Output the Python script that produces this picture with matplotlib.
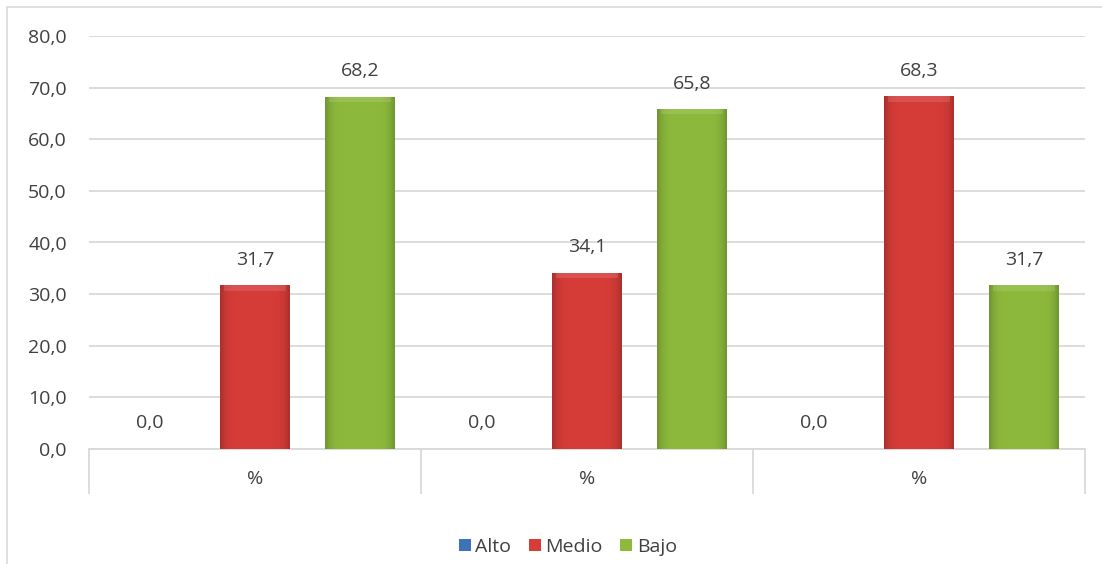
import matplotlib
matplotlib.use("Agg")
import matplotlib.pyplot as plt
import numpy as np
from matplotlib.colors import to_rgb
from matplotlib.patches import Rectangle

categories = ["%", "%", "%"]
series = ["Alto", "Medio", "Bajo"]
alto = [0.0, 0.0, 0.0]
medio = [31.7, 34.1, 68.3]
bajo = [68.2, 65.8, 31.7]
colors = ["#3C72B8", "#D63C38", "#8DBA3C"]

plt.rcParams["font.family"] = ["Open Sans", "DejaVu Sans"]
TEXT = "#404040"
GRID = "#D9D9D9"
FS = 14


def _shade(ax, patch, color):
    # soft horizontal shading: darker edges, lighter centre, plus a bevelled top
    x0, y0 = patch.get_x(), patch.get_y()
    w, h = patch.get_width(), patch.get_height()
    if h <= 0:
        return
    base = np.array(to_rgb(color))
    t = np.linspace(-1, 1, 60)
    k = 0.80 + 0.20 * (1 - t ** 6)
    img = np.clip(base[None, :] * k[:, None], 0, 1)[None, :, :]
    im = ax.imshow(img, extent=(x0, x0 + w, y0, y0 + h), aspect="auto",
                   zorder=3, interpolation="bilinear")
    im.set_clip_path(patch)
    cap = min(h, 1.0)
    ax.add_patch(Rectangle((x0 + w * 0.06, y0 + h - cap), w * 0.88, cap, color="white",
                           alpha=0.12, lw=0, zorder=4))


def main() -> None:
    fig = plt.figure(figsize=(11.02, 5.64), dpi=100, facecolor="white")
    ax = fig.add_axes([89 / 1102, 1 - 449 / 564, (1085 - 89) / 1102, (449 - 36) / 564])

    x = np.arange(len(categories))
    width = 0.21
    step = 0.316
    for i, (name, vals) in enumerate(zip(series, [alto, medio, bajo])):
        bars = ax.bar(x + (i - 1) * step, vals, width, color=colors[i],
                      edgecolor="none", zorder=2, label=name)
        for patch, v in zip(bars, vals):
            _shade(ax, patch, colors[i])
            ax.annotate(f"{v:.1f}".replace(".", ","),
                        (patch.get_x() + width / 2, v),
                        xytext=(0, 12), textcoords="offset points",
                        ha="center", va="bottom", fontsize=FS, color=TEXT)

    ax.set_xlim(-0.5, len(categories) - 0.5)
    ax.set_ylim(0, 80)
    ax.set_yticks(np.arange(0, 81, 10))
    ax.set_yticklabels([f"{v:.1f}".replace(".", ",") for v in np.arange(0, 81, 10)])
    ax.yaxis.grid(True, color=GRID, lw=1.3, zorder=0)
    ax.set_axisbelow(True)

    ax.set_xticks(np.arange(-0.5, len(categories)), labels=[""] * (len(categories) + 1))
    ax.set_xticks(x, labels=categories, minor=True)
    ax.tick_params(axis="x", which="major", length=32.5, width=1.3, color=GRID,
                   direction="out")
    ax.tick_params(axis="x", which="minor", length=0, pad=15, labelsize=FS,
                   labelcolor=TEXT)
    ax.tick_params(axis="y", length=0, pad=16, labelsize=FS, labelcolor=TEXT)

    for side in ("top", "right", "left"):
        ax.spines[side].set_visible(False)
    ax.spines["bottom"].set_color(GRID)
    ax.spines["bottom"].set_linewidth(1.3)

    fig.patches.append(Rectangle((6.5 / 1102, -0.02), 1.05, 1 - 6.5 / 564 + 0.02,
                                 transform=fig.transFigure, fill=False,
                                 edgecolor=GRID, lw=1.2))

    fig.legend(loc="center", bbox_to_anchor=(568 / 1102, 1 - 547 / 564), ncol=3,
               frameon=False, fontsize=FS, labelcolor=TEXT, handlelength=0.6,
               handleheight=0.6, handletextpad=0.25, columnspacing=0.9)

    fig.savefig("out.png", dpi=100, facecolor="white")
    plt.close(fig)


if __name__ == "__main__":
    main()
